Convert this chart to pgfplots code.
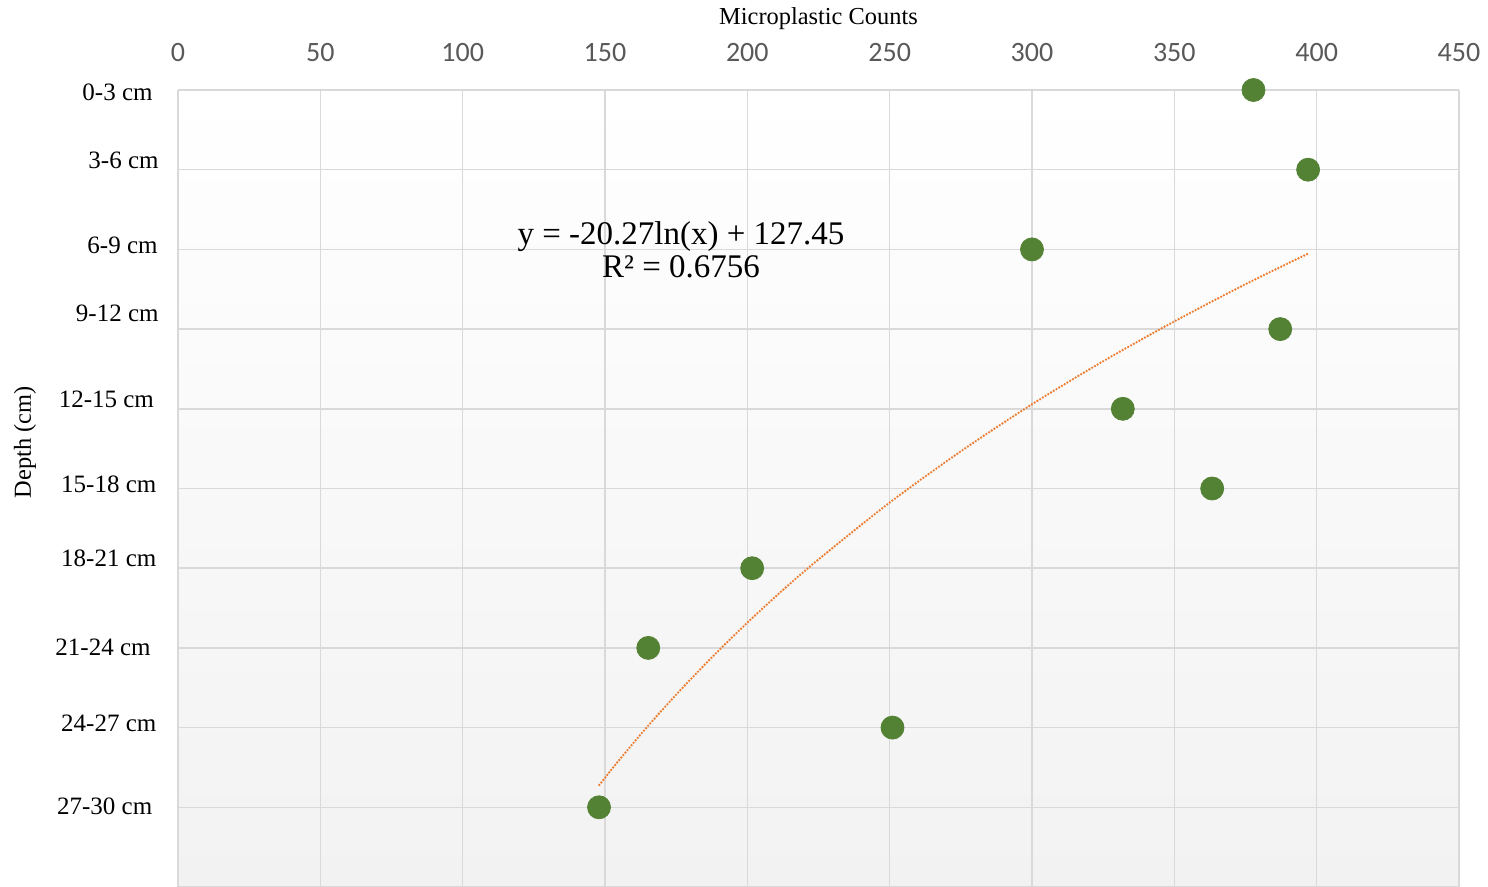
\documentclass[border=0pt]{standalone}
\usepackage{pgfplots}
\pgfplotsset{compat=1.18}
\usepackage{fontspec}
\setmainfont{Liberation Serif}
\newfontfamily\calibri{Carlito}
\definecolor{gridc}{HTML}{D9D9D9}
\definecolor{ptc}{HTML}{548235}
\definecolor{trc}{HTML}{ED7D31}
\definecolor{bgbot}{HTML}{F2F2F2}
\definecolor{tickc}{HTML}{595959}
\begin{document}
\begin{tikzpicture}
\begin{axis}[
  at={(0,0)}, anchor=south west,
  scale only axis,
  width=640.5pt, height=398.5pt,
  xmin=0, xmax=450, ymin=0, ymax=30,
  y dir=reverse,
  xtick={0,50,...,450},
  ytick={0,3,...,30},
  yticklabels={},
  xticklabel pos=right,
  xticklabel style={font=\calibri\fontsize{14}{16}\selectfont, text=tickc, anchor=base, yshift=14pt, inner sep=0pt},
  /pgf/number format/assume math mode=true,
  grid=major,
  major grid style={gridc, line width=0.75pt},
  axis line style={draw=none},
  tick style={draw=none},
  axis background/.style={top color=white, bottom color=bgbot},
  clip=false,
]
\addplot[trc, line width=1.3pt, dash pattern=on 0pt off 1.6pt, line cap=round, smooth] coordinates {
(148,26.16) (155,25.22) (165,23.95) (175,22.76) (187.5,21.36) (200,20.05) (212.5,18.82) (225,17.67) (250,15.53) (275,13.60) (300,11.83) (325,10.21) (350,8.71) (375,7.31) (397,6.16)};
\addplot[only marks, mark=*, mark size=5.75pt, mark options={fill=ptc, draw=ptc}] coordinates {
(377.8,0) (397,3) (300,6) (387.2,9) (331.9,12) (363.3,15) (201.7,18) (165.2,21) (251.0,24) (147.9,27)};
\begin{scope}[every node/.style={anchor=base east, inner sep=0pt, font=\fontsize{12.5}{14}\selectfont}]
\node at (axis cs:-8.78,0.40) {0-3 cm};
\node at (axis cs:-6.67,2.95) {3-6 cm};
\node at (axis cs:-7.02,6.15) {6-9 cm};
\node at (axis cs:-6.67,8.71) {9-12 cm};
\node at (axis cs:-8.32,11.95) {12-15 cm};
\node at (axis cs:-7.48,15.15) {15-18 cm};
\node at (axis cs:-7.48,17.95) {18-21 cm};
\node at (axis cs:-9.48,21.28) {21-24 cm};
\node at (axis cs:-7.48,24.13) {24-27 cm};
\node at (axis cs:-8.89,27.27) {27-30 cm};
\end{scope}
\node[anchor=base, inner sep=0pt, font=\fontsize{16.5}{18}\selectfont] at (axis cs:176.7,5.80) {y = -20.27ln(x) + 127.45};
\node[anchor=base, inner sep=0pt, font=\fontsize{16.5}{18}\selectfont] at (axis cs:176.7,7.05) {R² = 0.6756};
\end{axis}
\node[anchor=base, inner sep=0pt, font=\fontsize{12.2}{14}\selectfont] at (320.25pt,431pt) {Microplastic Counts};
\node[rotate=90, inner sep=0pt, font=\fontsize{12.2}{14}\selectfont] at (-76.5pt,222.25pt) {Depth (cm)};
\pgfresetboundingbox
\path[use as bounding box] (-89pt,0pt) rectangle (655pt,443.5pt);
\end{tikzpicture}
\end{document}
